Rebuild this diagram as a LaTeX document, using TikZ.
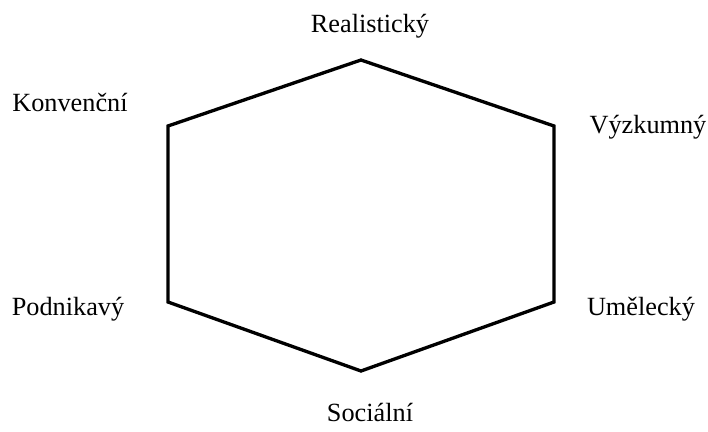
\documentclass[tikz,border=0pt]{standalone}
\usepackage{fontspec}
\setmainfont{Liberation Serif}
\begin{document}
\begin{tikzpicture}[x=0.75pt,y=-0.75pt,line join=miter]
    \tikzset{lbl/.style={anchor=base,inner sep=0pt,font=\fontsize{19.7}{24}\selectfont}}
    \useasboundingbox (0,0) rectangle (708,432);

    % hexagon corners
    \coordinate (real) at (361,60);
    \coordinate (vyzk) at (554,126);
    \coordinate (umel) at (554,302);
    \coordinate (soc) at (361,371);
    \coordinate (podn) at (168,302);
    \coordinate (konv) at (168,126);
    \draw[line width=2.5pt] (real) -- (vyzk) -- (umel) -- (soc) -- (podn) -- (konv) -- cycle;

    % labels
    \node[lbl] (treal) at (370,32) {Realistický};
    \node[lbl] (tvyzk) at (648,133) {Výzkumný};
    \node[lbl] (tumel) at (641,315) {Umělecký};
    \node[lbl] (tsoc) at (370,421) {Sociální};
    \node[lbl] (tpodn) at (68,315) {Podnikavý};
    \node[lbl] (tkonv) at (70,111) {Konvenční};
\end{tikzpicture}
\end{document}
